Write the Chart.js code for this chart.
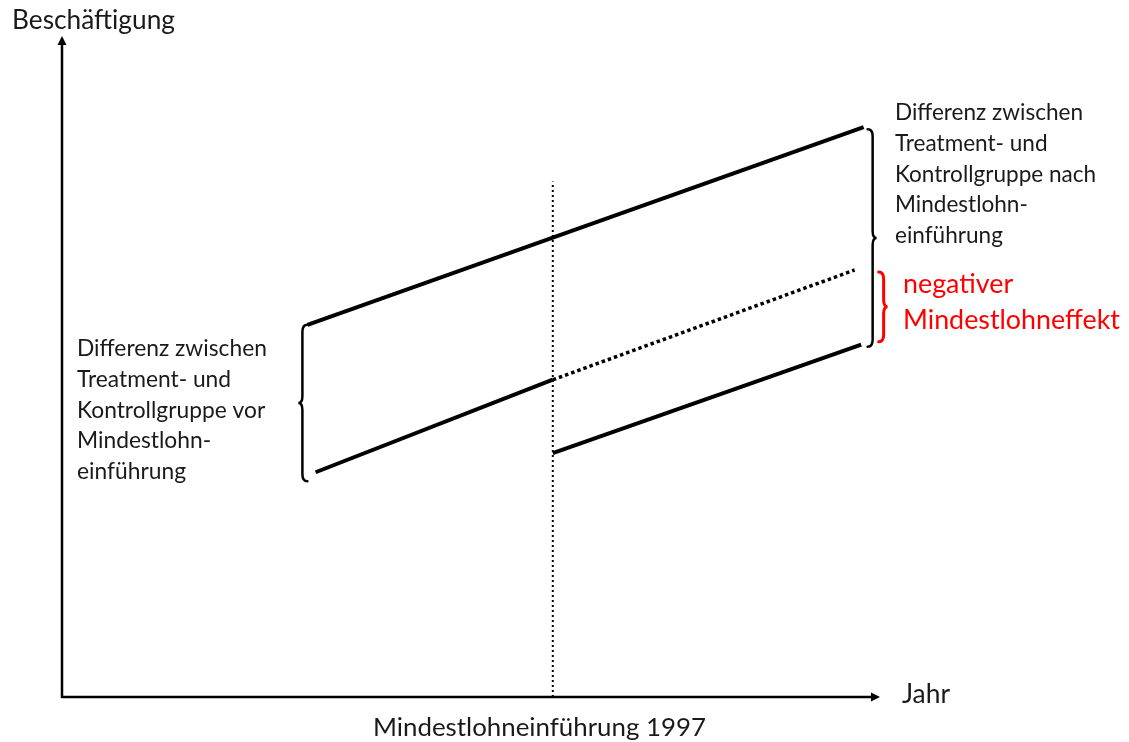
<!DOCTYPE html>
<html>
<head>
<meta charset="utf-8">
<title>Differenz-in-Differenzen Mindestlohn</title>
<script src="https://cdn.jsdelivr.net/npm/chart.js@4/dist/chart.umd.min.js"></script>
<style>
  html, body { margin: 0; padding: 0; background: #fff; }
  canvas { display: block; }
</style>
</head>
<body>
<canvas id="did" width="1129" height="742"></canvas>
<script>
// Schematic values (x = time in abstract years, y = employment index)
const upperX = [3.0, 9.8];
const upperY = [56.3, 86.2];
const lowerPreX = [3.1, 6.0];
const lowerPreY = [34.0, 48.0];
const lowerPostX = [6.0, 9.77];
const lowerPostY = [36.9, 53.3];
const counterX = [6.0, 9.69];
const counterY = [48.0, 64.6];
const cutoffX = [6.0, 6.0];
const cutoffY = [0, 78.0];

// Text
const yTitle = 'Beschäftigung';
const xTitle = 'Jahr';
const cutoffLabel = 'Mindestlohneinführung 1997';
const leftNote = ['Differenz zwischen', 'Treatment- und', 'Kontrollgruppe vor', 'Mindestlohn-', 'einführung'];
const rightNote = ['Differenz zwischen', 'Treatment- und', 'Kontrollgruppe nach', 'Mindestlohn-', 'einführung'];
const effectNote = ['negativer', 'Mindestlohneffekt'];

const FONT = 'Lato, "Open Sans", sans-serif';
const TEXT = '#1a1a1a';
const RED = '#ff0000';

function pts(xs, ys) {
  return xs.map((x, i) => ({ x: x, y: ys[i] }));
}

// font size so that `text` is `width` px wide
function fitSize(ctx, text, width) {
  ctx.font = '100px ' + FONT;
  return 100 * width / ctx.measureText(text).width;
}

function drawBlock(ctx, lines, x, baselines, size, color) {
  ctx.font = size.toFixed(2) + 'px ' + FONT;
  ctx.fillStyle = color;
  ctx.textAlign = 'left';
  ctx.textBaseline = 'alphabetic';
  lines.forEach((t, i) => ctx.fillText(t, x, baselines[i]));
}

// dir = 1 -> "}" (tip right), dir = -1 -> "{" (tip left)
function drawBrace(ctx, x, yTop, yBot, dir, color, lw) {
  const w = 5, r = 7, t = 4, mid = (yTop + yBot) / 2;
  ctx.save();
  ctx.strokeStyle = color;
  ctx.lineWidth = lw;
  ctx.lineCap = 'round';
  ctx.beginPath();
  ctx.moveTo(x - dir * w, yTop);
  ctx.quadraticCurveTo(x, yTop, x, yTop + r);
  ctx.lineTo(x, mid - r);
  ctx.quadraticCurveTo(x, mid, x + dir * t, mid);
  ctx.quadraticCurveTo(x, mid, x, mid + r);
  ctx.lineTo(x, yBot - r);
  ctx.quadraticCurveTo(x, yBot, x - dir * w, yBot);
  ctx.stroke();
  ctx.restore();
}

const overlay = {
  id: 'overlay',
  afterDraw(chart) {
    const ctx = chart.ctx;
    const xs = chart.scales.x, ys = chart.scales.y;
    const px = v => xs.getPixelForValue(v);
    const py = v => ys.getPixelForValue(v);
    const x0 = px(0), y0 = py(0), xEnd = chart.chartArea.right, yEnd = chart.chartArea.top;

    // axes with arrow heads
    ctx.save();
    ctx.strokeStyle = '#000';
    ctx.fillStyle = '#000';
    ctx.lineWidth = 2.5;
    ctx.beginPath();
    ctx.moveTo(x0, y0 + 1);
    ctx.lineTo(x0, yEnd + 6);
    ctx.moveTo(x0 - 1, y0);
    ctx.lineTo(xEnd - 6, y0);
    ctx.stroke();
    ctx.beginPath();
    ctx.moveTo(x0, yEnd);
    ctx.lineTo(x0 - 4.5, yEnd + 9);
    ctx.lineTo(x0 + 4.5, yEnd + 9);
    ctx.closePath();
    ctx.fill();
    ctx.beginPath();
    ctx.moveTo(xEnd, y0);
    ctx.lineTo(xEnd - 9, y0 - 4.5);
    ctx.lineTo(xEnd - 9, y0 + 4.5);
    ctx.closePath();
    ctx.fill();
    ctx.restore();

    // braces derived from the series
    drawBrace(ctx, px(upperX[0]) - 5, py(upperY[0]), py(lowerPreY[0]) + 9, -1, '#000', 2.5);
    drawBrace(ctx, px(upperX[1]) + 9, py(upperY[1]) + 2, py(lowerPostY[1]) + 2, 1, '#000', 2.5);
    drawBrace(ctx, px(upperX[1]) + 20, py(counterY[1]) + 2, py(lowerPostY[1]) - 3, 1, RED, 3);

    // labels
    drawBlock(ctx, [yTitle], 12, [29], fitSize(ctx, yTitle, 163), TEXT);
    drawBlock(ctx, [xTitle], 902, [703], fitSize(ctx, xTitle, 48), TEXT);
    drawBlock(ctx, [cutoffLabel], 373, [736], fitSize(ctx, cutoffLabel, 333), TEXT);
    drawBlock(ctx, leftNote, 77, [356, 387, 418, 448, 479], fitSize(ctx, leftNote[0], 190), TEXT);
    drawBlock(ctx, rightNote, 895, [120, 151, 182, 212, 243], fitSize(ctx, rightNote[0], 188), TEXT);
    drawBlock(ctx, effectNote, 903, [293, 329], fitSize(ctx, effectNote[1], 217), RED);
  }
};

const solid = { borderColor: '#000', borderWidth: 4, showLine: true, pointRadius: 0, fill: false, borderCapStyle: 'butt' };

new Chart(document.getElementById('did'), {
  type: 'scatter',
  data: {
    datasets: [
      Object.assign({ label: 'Kontrollgruppe', data: pts(upperX, upperY) }, solid),
      Object.assign({ label: 'Treatmentgruppe vor', data: pts(lowerPreX, lowerPreY) }, solid),
      Object.assign({ label: 'Treatmentgruppe nach', data: pts(lowerPostX, lowerPostY) }, solid),
      { label: 'ohne Mindestlohn', data: pts(counterX, counterY), showLine: true, pointRadius: 0,
        borderColor: '#000', borderWidth: 3.5, borderDash: [3.5, 3] },
      { label: '1997', data: pts(cutoffX, cutoffY), showLine: true, pointRadius: 0,
        borderColor: '#000', borderWidth: 2, borderDash: [2, 3] }
    ]
  },
  options: {
    responsive: false,
    animation: false,
    events: [],
    layout: { padding: { left: 62, right: 249, top: 36, bottom: 45 } },
    plugins: { legend: { display: false }, tooltip: { enabled: false } },
    scales: {
      x: { type: 'linear', min: 0, max: 10, display: false },
      y: { type: 'linear', min: 0, max: 100, display: false }
    }
  },
  plugins: [overlay]
});
</script>
</body>
</html>
